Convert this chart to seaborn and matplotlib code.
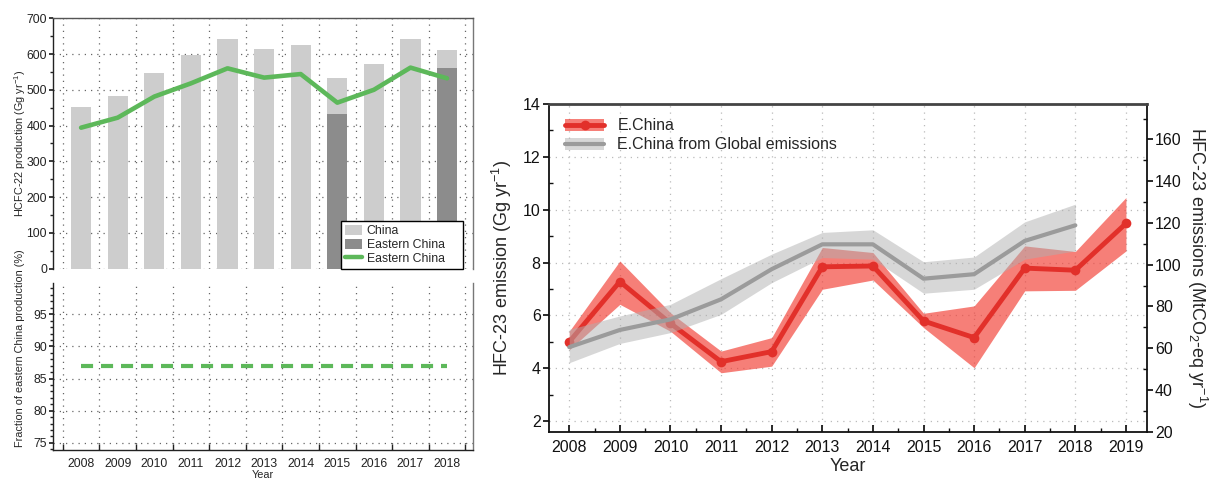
import matplotlib
matplotlib.use("Agg")
import matplotlib.pyplot as plt
import numpy as np
import pandas as pd
import seaborn as sns
from matplotlib.ticker import MultipleLocator, FixedLocator
from matplotlib.lines import Line2D
from matplotlib.patches import Patch

# ---------------- data ----------------
# HCFC-22 production (Gg/yr)
prod_years = [2008, 2009, 2010, 2011, 2012, 2013, 2014, 2015, 2016, 2017, 2018]
china_prod = [452, 484, 548, 597, 642, 615, 624, 534, 572, 643, 612]
east_bar_years = [2015, 2018]
east_bar_prod = [432, 561]
east_line_prod = [394, 422, 481, 518, 560, 534, 544, 464, 500, 562, 532]
# fraction of eastern China production (%)
east_fraction = [87, 87, 87, 87, 87, 87, 87, 87, 87, 87, 87]

# HFC-23 emissions (Gg/yr)
emis_years = [2008, 2009, 2010, 2011, 2012, 2013, 2014, 2015, 2016, 2017, 2018, 2019]
ech_mean = [5.00, 7.28, 5.70, 4.25, 4.63, 7.84, 7.87, 5.79, 5.16, 7.79, 7.71, 9.48]
ech_low = [4.70, 6.42, 5.40, 3.83, 4.08, 6.99, 7.34, 5.54, 4.02, 6.93, 6.95, 8.44]
ech_high = [5.40, 8.06, 6.10, 4.65, 5.16, 8.57, 8.38, 6.08, 6.36, 8.63, 8.42, 10.46]

glob_years = [2008, 2009, 2010, 2011, 2012, 2013, 2014, 2015, 2016, 2017, 2018]
glob_mean = [4.80, 5.45, 5.85, 6.61, 7.75, 8.69, 8.69, 7.39, 7.56, 8.82, 9.41]
glob_low = [4.21, 4.94, 5.35, 6.04, 7.24, 8.19, 8.13, 6.84, 6.99, 8.13, 8.44]
glob_high = [5.47, 5.98, 6.42, 7.39, 8.32, 9.14, 9.24, 8.03, 8.21, 9.54, 10.21]

prod_labels = ["China", "Eastern China", "Eastern China"]
emis_labels = ["E.China", "E.China from Global emissions"]

# ---------------- style ----------------
sns.set_theme(style="white")
plt.rcParams["font.family"] = ["Liberation Sans", "DejaVu Sans"]
plt.rcParams["mathtext.fontset"] = "custom"
plt.rcParams["mathtext.rm"] = "Liberation Sans"
plt.rcParams["mathtext.it"] = "Liberation Sans:italic"
plt.rcParams["axes.unicode_minus"] = True

LIGHT = "#CDCDCD"
DARK = "#8C8C8C"
GREEN = "#5DB85A"
RED = "#E2302A"
RED_BAND = "#F23A30"
GRAY_LINE = "#9B9B9B"
GRAY_BAND = "#B0B0B0"
DOT = (0, (1, 4))

W, H = 1210, 480
fig = plt.figure(figsize=(W / 100, H / 100), dpi=100)

def px_axes(x0, y0, x1, y1):
    return fig.add_axes([x0 / W, 1 - y1 / H, (x1 - x0) / W, (y1 - y0) / H])

ax_top = px_axes(53.3, 18.3, 472.7, 268.5)
ax_bot = px_axes(53.3, 283.3, 472.7, 450.0)
ax_r = px_axes(549.0, 104.0, 1146.7, 431.7)

# ---------------- production panel ----------------
prod_df = pd.DataFrame({
    "year": prod_years + east_bar_years,
    "value": china_prod + east_bar_prod,
    "series": ["China"] * len(prod_years) + ["Eastern China"] * len(east_bar_years),
})
sns.barplot(data=prod_df, x="year", y="value", hue="series", dodge=False,
            native_scale=True, width=0.55, palette=[LIGHT, DARK],
            saturation=1, legend=False, linewidth=0, edgecolor="none",
            ax=ax_top, zorder=2)
sns.lineplot(x=prod_years, y=east_line_prod, color=GREEN, lw=3.3,
             ax=ax_top, zorder=3)

for a in (ax_top, ax_bot):
    a.set_xlim(2007.24, 2018.70)
    a.xaxis.set_major_locator(FixedLocator(prod_years))
    a.xaxis.set_minor_locator(FixedLocator([y - 0.5 for y in prod_years] + [2018.5]))
    a.grid(False)
    a.grid(True, which="minor", axis="x", color="#666666", lw=0.9, ls=DOT, zorder=0)
    a.grid(True, which="major", axis="y", color="#666666", lw=0.9, ls=DOT, zorder=0)
    a.set_axisbelow(True)
    a.spines["left"].set_color("#222222")
    a.spines["right"].set_color("#777777")
    a.spines["top"].set_color("#555555")
    a.spines["bottom"].set_color("#222222")
    for s in a.spines.values():
        s.set_linewidth(1.0)

ax_top.set_ylim(0, 700)
ax_top.yaxis.set_major_locator(MultipleLocator(100))
ax_top.yaxis.set_minor_locator(MultipleLocator(50))
ax_top.spines["bottom"].set_visible(False)
ax_top.tick_params(axis="x", which="both", length=0, labelbottom=False)
ax_top.tick_params(axis="y", which="major", direction="out", length=3,
                   labelsize=8.8, pad=1.5, left=True, colors="#222222")
ax_top.tick_params(axis="y", which="minor", direction="out", length=2, left=True,
                   colors="#222222")
ax_top.set_xlabel("")
ax_top.set_ylabel("HCFC-22 production (Gg yr$^{-1}$)", fontsize=7.8)
ax_top.yaxis.set_label_coords(-0.060, 0.5)

handles = [Patch(facecolor=LIGHT, edgecolor="none"),
           Patch(facecolor=DARK, edgecolor="none"),
           Line2D([], [], color=GREEN, lw=3.2)]
leg = ax_top.legend(handles, prod_labels, loc="lower left",
                    bbox_to_anchor=(0.686, 0.0, 0.291, 0.19), mode="expand",
                    frameon=True, fancybox=False,
                    edgecolor="black", framealpha=1, fontsize=8.8,
                    handlelength=1.4, handleheight=0.9, borderpad=0.3,
                    labelspacing=0.12, handletextpad=0.4, borderaxespad=0)
leg.get_frame().set_linewidth(1.0)
leg.set_zorder(5)

sns.lineplot(x=prod_years, y=east_fraction, color=GREEN, lw=3.0,
             linestyle=(0, (2.9, 1.9)), ax=ax_bot, zorder=3)
ax_bot.set_ylim(73.9, 99.8)
ax_bot.yaxis.set_major_locator(FixedLocator([75, 80, 85, 90, 95]))
ax_bot.yaxis.set_minor_locator(MultipleLocator(1))
ax_bot.spines["top"].set_visible(False)
ax_bot.set_xticks(prod_years)
ax_bot.set_xticklabels([str(y) for y in prod_years])
ax_bot.tick_params(axis="x", which="major", length=0, labelsize=8.8, pad=6,
                   bottom=True, colors="#222222")
ax_bot.tick_params(axis="x", which="minor", direction="in", length=4,
                   bottom=True, colors="#222222")
ax_bot.tick_params(axis="y", which="major", direction="out", length=3,
                   labelsize=8.8, pad=1.5, left=True, colors="#222222")
ax_bot.tick_params(axis="y", which="minor", direction="out", length=2, left=True,
                   colors="#222222")
ax_bot.set_xlabel("Year", fontsize=7.8, labelpad=0)
ax_bot.set_ylabel("Fraction of eastern China production (%)", fontsize=7.8)
ax_bot.yaxis.set_label_coords(-0.0675, 0.61)

# ---------------- emissions panel ----------------
ax_r.fill_between(emis_years, ech_low, ech_high, color=RED_BAND, alpha=0.65,
                  lw=0, zorder=2)
sns.lineplot(x=emis_years, y=ech_mean, color=RED, lw=3.5, marker="o",
             markersize=7, markeredgewidth=0, ax=ax_r, zorder=3)
ax_r.fill_between(glob_years, glob_low, glob_high, color=GRAY_BAND, alpha=0.5,
                  lw=0, zorder=4)
sns.lineplot(x=glob_years, y=glob_mean, color=GRAY_LINE, lw=3.0, ax=ax_r, zorder=5)

ax_r.set_xlim(2007.6, 2019.41)
ax_r.set_ylim(1.6, 14.0)
ax_r.set_xticks(emis_years)
ax_r.set_xticklabels([str(y) for y in emis_years])
ax_r.xaxis.set_minor_locator(FixedLocator([y + 0.5 for y in emis_years[:-1]]))
ax_r.yaxis.set_major_locator(FixedLocator([2, 4, 6, 8, 10, 12, 14]))
ax_r.yaxis.set_minor_locator(MultipleLocator(1))
ax_r.grid(False)
ax_r.grid(True, which="major", color="#BBBBBB", lw=0.9, ls=DOT, zorder=0)
ax_r.set_axisbelow(True)
ax_r.tick_params(axis="x", which="major", direction="in", length=5, labelsize=11.5,
                 pad=6, bottom=True, colors="#111111")
ax_r.tick_params(axis="x", which="minor", direction="in", length=3, bottom=True,
                 colors="#111111")
ax_r.tick_params(axis="y", which="major", direction="out", length=4,
                 labelsize=11.5, pad=2, left=True, colors="#111111")
ax_r.tick_params(axis="y", which="minor", direction="in", length=3, left=True,
                 colors="#111111")
for side, col, lw in (("left", "#111111", 1.3), ("bottom", "#111111", 1.3),
                      ("top", "#444444", 2.0), ("right", "#111111", 1.3)):
    ax_r.spines[side].set_color(col)
    ax_r.spines[side].set_linewidth(lw)
ax_r.set_xlabel("Year", fontsize=13, labelpad=2)
ax_r.set_ylabel("HFC-23 emission (Gg yr$^{-1}$)", fontsize=13)
ax_r.yaxis.set_label_coords(-0.058, 0.5)

ax_r2 = ax_r.twinx()
ax_r2.set_ylim(20, 177)
ax_r2.yaxis.set_major_locator(FixedLocator([20, 40, 60, 80, 100, 120, 140, 160]))
ax_r2.yaxis.set_minor_locator(MultipleLocator(10))
ax_r2.grid(False)
ax_r2.tick_params(axis="y", which="major", direction="out", length=4,
                  labelsize=11.5, pad=2, right=True, colors="#111111")
ax_r2.tick_params(axis="y", which="minor", direction="in", length=3, right=True,
                  colors="#111111")
for s in ax_r2.spines.values():
    s.set_visible(False)
ax_r2.set_ylabel("HFC-23 emissions (MtCO$_2$-eq yr$^{-1}$)", fontsize=13,
                 rotation=270, labelpad=16)
ax_r2.yaxis.set_label_coords(1.105, 0.5)

red_handle = (Patch(facecolor=RED_BAND, alpha=0.65, edgecolor="none"),
              Line2D([], [], color=RED, lw=3.5, marker="o", markersize=7,
                     markeredgewidth=0))
gray_handle = (Patch(facecolor=GRAY_BAND, alpha=0.5, edgecolor="none"),
               Line2D([], [], color=GRAY_LINE, lw=3.0))
ax_r.legend([red_handle, gray_handle], emis_labels, loc="upper left",
            bbox_to_anchor=(0.01, 0.985), frameon=False, fontsize=11.5,
            handlelength=2.5, handleheight=0.75, labelspacing=0.25,
            handletextpad=0.8, borderaxespad=0.2)

fig.savefig("out.png", dpi=100)
